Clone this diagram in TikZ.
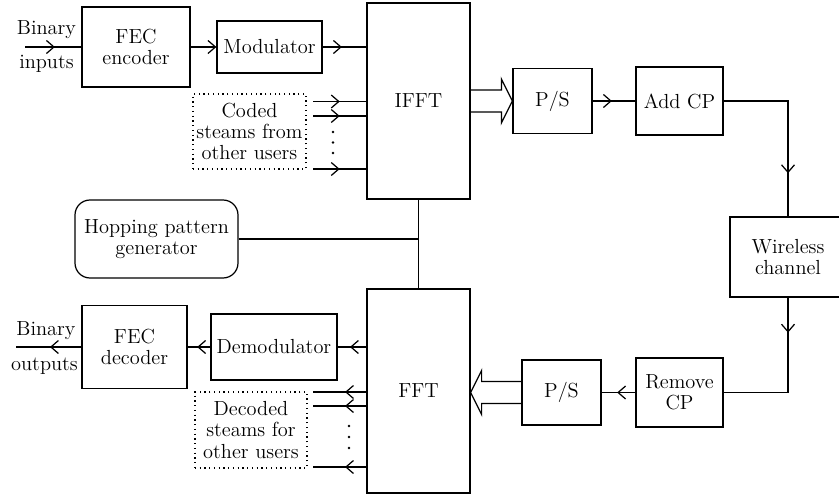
\documentclass[tikz,border=0pt]{standalone}
\usetikzlibrary{arrows.meta,decorations.markings,calc}
\begin{document}
\begin{tikzpicture}[
    font=\fontsize{11.6}{12.1}\selectfont,
    line width=0.7pt,
    >={Straight Barb[length=1.5mm,width=2.6mm]},
    block/.style={draw, align=center, inner sep=1pt},
    dotbox/.style={draw, dotted, align=center, inner sep=1pt},
    midarrow/.style={decoration={markings, mark=at position #1 with {\arrow{>}}}, postaction={decorate}},
]
\useasboundingbox (0,0) rectangle (16.78,-9.88);
\clip (0,0) rectangle (16.78,-9.88);

% transmitter side
\node[block, minimum width=2.16cm, minimum height=1.6cm] (fecenc) at (2.72,-0.94) {FEC\\encoder};
\node[block, minimum width=2.1cm, minimum height=1.04cm] (mod) at (5.39,-0.94) {Modulator};
\node[block, minimum width=2.06cm, minimum height=3.92cm] (ifft) at (8.37,-2.02) {IFFT};
\node[dotbox, minimum width=2.26cm, minimum height=1.5cm] (coded) at (4.99,-2.63) {Coded\\steams from\\other users};
\node[block, minimum width=1.58cm, minimum height=1.3cm] (ps1) at (11.05,-2.02) {P/S};
\node[block, minimum width=1.74cm, minimum height=1.36cm] (addcp) at (13.59,-2.02) {Add CP};

\coordinate (bin) at (0.5,-0.94);
\node[anchor=base] (binin) at (0.93,-0.70) {Binary};
\node[anchor=base] (inputs) at (0.93,-1.38) {inputs};

% channel
\node[block, minimum width=2.32cm, minimum height=1.6cm] (wireless) at (15.76,-5.14) {Wireless\\channel};

% hopping
\node[block, rounded corners=0.3cm, minimum width=3.26cm, minimum height=1.56cm] (hop) at (3.13,-4.78) {Hopping pattern\\generator};

% receiver side
\node[block, minimum width=2.06cm, minimum height=4.08cm] (fft) at (8.37,-7.82) {FFT};
\node[block, minimum width=2.52cm, minimum height=1.32cm] (demod) at (5.48,-6.94) {Demodulator};
\node[block, minimum width=2.1cm, minimum height=1.66cm] (fecdec) at (2.69,-6.94) {FEC\\decoder};
\node[dotbox, minimum width=2.24cm, minimum height=1.52cm] (decoded) at (5.02,-8.6) {Decoded\\steams for\\other users};
\node[block, minimum width=1.58cm, minimum height=1.3cm] (ps2) at (11.23,-7.85) {P/S};
\node[block, minimum width=1.74cm, minimum height=1.38cm] (removecp) at (13.59,-7.85) {Remove\\CP};

\coordinate (bout) at (0.32,-6.94);
\node[anchor=base] (binout) at (0.92,-6.70) {Binary};
\node[anchor=base] (outputs) at (0.89,-7.40) {outputs};

% forward path
\draw[midarrow=0.53] (bin) -- (fecenc.west);
\draw[->] (fecenc) -- (mod);
\draw[midarrow=0.44] (mod) -- (mod -| ifft.west);
\foreach \y [count=\i] in {-2.03,-2.32,-3.38} {
    \coordinate (cin\i) at (6.26,\y);
    \draw[midarrow=0.5] (cin\i) -- (cin\i -| ifft.west);
}
\foreach \y in {-2.64,-2.85,-3.06}
    \fill (6.66,\y) circle (0.028);

\draw (ifft.east |- ps1.west) ++(0,0.22) -- ($(ps1.west)+(-0.22,0.22)$) -- ++(0,0.22) -- (ps1.west)
    -- ($(ps1.west)+(-0.22,-0.44)$) -- ++(0,0.22) -- ($(ifft.east |- ps1.west)+(0,-0.22)$);
\draw[midarrow=0.45] (ps1) -- (addcp);
\draw[midarrow=0.76] (addcp.east) -| (wireless.north);
\draw[midarrow=0.22] (wireless.south) |- (removecp.east);

% return path
\draw[midarrow=0.54] (removecp) -- (ps2);
\draw (ps2.west) ++(0,0.22) -- ($(fft.east |- ps2.west)+(0.22,0.22)$) -- ++(0,0.22) -- (fft.east |- ps2.west)
    -- ($(fft.east |- ps2.west)+(0.22,-0.44)$) -- ++(0,0.22) -- ($(ps2.west)+(0,-0.22)$);
\draw[midarrow=0.57] (demod -| fft.west) -- (demod);
\draw[midarrow=0.58] (demod) -- (fecdec);
\draw[midarrow=0.48] (fecdec.west) -- (bout);
\foreach \y [count=\i] in {-7.84,-8.12,-9.34} {
    \coordinate (dout\i) at (6.26,\y);
    \draw[midarrow=0.4] (dout\i -| fft.west) -- (dout\i);
}
\foreach \y in {-8.52,-8.74,-8.96}
    \fill (6.98,\y) circle (0.028);

% hopping pattern to both transforms
\draw (ifft) -- (fft);
\draw (hop) -- (hop -| ifft.south);

\end{tikzpicture}
\end{document}
